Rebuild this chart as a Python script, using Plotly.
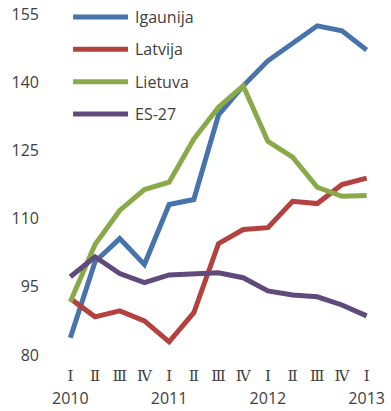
import plotly.graph_objects as go

# Quarterly index values, 2010 Q1 – 2013 Q1
quarter_names = ["Ⅰ", "Ⅱ", "Ⅲ", "Ⅳ"] * 3 + ["Ⅰ"]
years = ["2010", "2011", "2012", "2013"]

igaunija = [83.8, 100.5, 105.6, 99.9, 113.1, 114.2, 132.8, 139.2, 144.7, 148.5, 152.4, 151.3, 147.1]
latvija = [92.4, 88.4, 89.7, 87.5, 82.9, 89.3, 104.5, 107.6, 108.0, 113.8, 113.3, 117.5, 118.9]
lietuva = [91.7, 104.3, 111.8, 116.4, 118.0, 127.5, 134.5, 139.2, 127.0, 123.5, 116.9, 114.9, 115.1]
es27 = [97.2, 101.6, 97.9, 95.9, 97.6, 97.9, 98.1, 97.0, 94.1, 93.2, 92.8, 91.0, 88.6]

y_ticks = [80, 95, 110, 125, 140, 155]

series = [
    ("Igaunija", igaunija, "#4674AB"),
    ("Latvija", latvija, "#B3413E"),
    ("Lietuva", lietuva, "#8AAA49"),
    ("ES-27", es27, "#5F4A7B"),
]

x_idx = list(range(len(quarter_names)))
text_color = "#404040"
font_main = "Open Sans, Noto Sans, sans-serif"
numeral_font = "DejaVu Serif"

# Two-line category labels: quarter numeral, and the year under each first quarter
tick_text = []
for i, q in enumerate(quarter_names):
    label = f"<span style='font-family:{numeral_font};font-size:15px'>{q}</span>"
    if i % 4 == 0:
        label += f"<br><span style='font-size:16px'>{years[i // 4]}</span>"
    tick_text.append(label)

fig = go.Figure()
for name, vals, color in series:
    fig.add_trace(go.Scatter(
        x=x_idx, y=vals, name=name, mode="lines",
        line=dict(color=color, width=5),
        showlegend=False,
    ))

# Key drawn in the upper-left corner: a long swatch line plus the series name
key_x0, key_x1, key_text_x = 0.047, 0.218, 0.234
key_top, key_step = 0.991, 0.0947
for i, (name, _, color) in enumerate(series):
    ky = key_top - i * key_step
    fig.add_shape(type="line", xref="paper", yref="paper",
                  x0=key_x0, x1=key_x1, y0=ky, y1=ky,
                  line=dict(color=color, width=5))
    fig.add_annotation(xref="paper", yref="paper", x=key_text_x, y=ky,
                       xanchor="left", yanchor="middle", showarrow=False,
                       text=name, font=dict(size=16, color=text_color))

fig.update_layout(
    width=391, height=411,
    margin=dict(l=58, r=12, t=14, b=56, autoexpand=False),
    paper_bgcolor="white", plot_bgcolor="white",
    font=dict(family=font_main, size=16, color=text_color),
    showlegend=False,
    xaxis=dict(
        range=[-0.5, len(quarter_names) - 0.5],
        tickmode="array", tickvals=x_idx, ticktext=tick_text,
        tickangle=0, automargin=False,
        showgrid=False, zeroline=False, showline=False,
        ticks="", ticklabelstandoff=7,
        tickfont=dict(size=18, color=text_color),
    ),
    yaxis=dict(
        range=[80, 155], automargin=False,
        tickmode="array", tickvals=y_ticks,
        showgrid=False, zeroline=False, showline=False,
        ticks="", ticklabelstandoff=18,
        tickfont=dict(size=16, color=text_color),
    ),
)

fig.write_html("out.html")
